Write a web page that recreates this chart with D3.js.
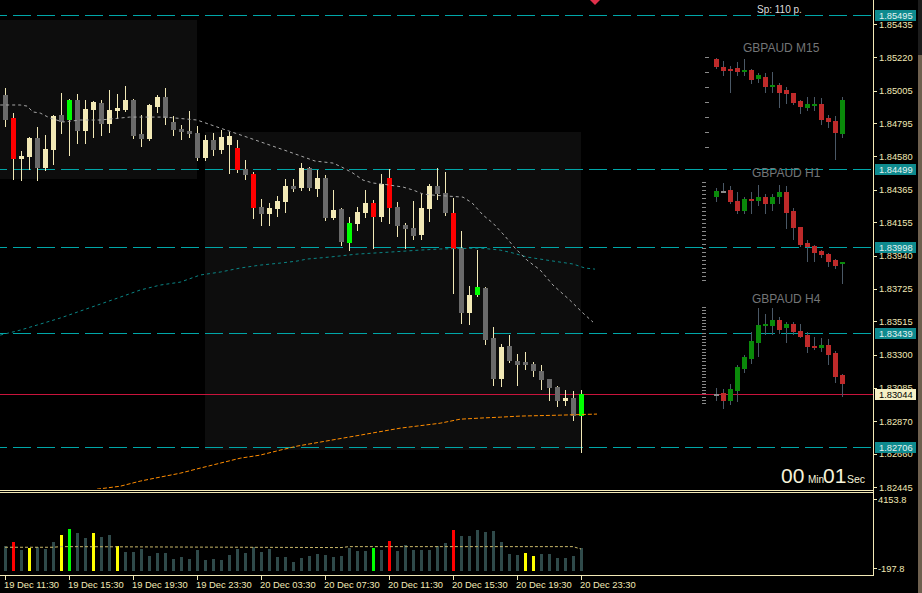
<!DOCTYPE html>
<html>
<head>
<meta charset="utf-8">
<script src="https://cdn.jsdelivr.net/npm/d3@7"></script>
<style>
  html, body { margin: 0; padding: 0; background: #000; overflow: hidden; }
  svg { display: block; }
  text { font-family: "Liberation Sans", Arial, sans-serif; }
</style>
</head>
<body>
<div id="chart"></div>
<script>
// GBPAUD M30 – bars 0..72 = 19 Dec 11:30 .. 20 Dec 23:30
const opens = [1.84976,1.84828,1.84563,1.84576,1.84698,1.84505,1.84621,1.84847,1.84815,1.84944,1.84744,1.84879,1.84925,1.84789,1.84873,1.84879,1.84944,1.84724,1.84692,1.84899,1.84963,1.84802,1.84757,1.84744,1.84731,1.84569,1.84686,1.84621,1.84653,1.84634,1.84498,1.84466,1.84253,1.84208,1.84240,1.84285,1.84388,1.84376,1.84505,1.84369,1.84440,1.84182,1.84240,1.84020,1.84143,1.84214,1.84279,1.84188,1.84440,1.84253,1.84137,1.84117,1.84072,1.84240,1.84388,1.84343,1.84214,1.83988,1.83568,1.83684,1.83730,1.83407,1.83142,1.83355,1.83258,1.83252,1.83239,1.83193,1.83142,1.83090,1.82999,1.83019,1.82903]
const highs = [1.85022,1.84860,1.84614,1.84705,1.84770,1.84718,1.84847,1.84989,1.84950,1.84983,1.84944,1.84937,1.84944,1.85009,1.84983,1.85034,1.84950,1.84847,1.84918,1.84976,1.85022,1.84841,1.84783,1.84873,1.84776,1.84718,1.84731,1.84750,1.84737,1.84686,1.84556,1.84479,1.84305,1.84279,1.84324,1.84434,1.84434,1.84537,1.84511,1.84492,1.84460,1.84363,1.84246,1.84188,1.84253,1.84363,1.84298,1.84466,1.84498,1.84285,1.84149,1.84292,1.84337,1.84401,1.84505,1.84479,1.84311,1.84098,1.83742,1.83975,1.83736,1.83478,1.83368,1.83426,1.83303,1.83316,1.83252,1.83232,1.83142,1.83096,1.83071,1.83064,1.83071]
const lows = [1.84776,1.84434,1.84427,1.84498,1.84427,1.84492,1.84531,1.84731,1.84589,1.84666,1.84666,1.84705,1.84718,1.84737,1.84828,1.84873,1.84698,1.84647,1.84686,1.84867,1.84789,1.84718,1.84692,1.84705,1.84556,1.84556,1.84589,1.84602,1.84472,1.84479,1.84434,1.84182,1.84137,1.84137,1.84195,1.84221,1.84356,1.84363,1.84363,1.84324,1.84169,1.84175,1.84007,1.83975,1.84104,1.84188,1.83988,1.84162,1.84149,1.84065,1.83988,1.84046,1.84046,1.84162,1.84305,1.84201,1.83697,1.83503,1.83497,1.83678,1.83368,1.83103,1.83096,1.83252,1.83103,1.83206,1.83161,1.83077,1.83006,1.82967,1.82974,1.82877,1.82670]
const closes = [1.84815,1.84563,1.84582,1.84698,1.84505,1.84627,1.84841,1.84802,1.84944,1.84744,1.84886,1.84931,1.84789,1.84879,1.84892,1.84944,1.84711,1.84692,1.84912,1.84963,1.84828,1.84750,1.84737,1.84724,1.84569,1.84686,1.84621,1.84705,1.84711,1.84492,1.84460,1.84246,1.84208,1.84246,1.84292,1.84388,1.84369,1.84505,1.84376,1.84440,1.84182,1.84233,1.84027,1.84149,1.84221,1.84279,1.84188,1.84401,1.84246,1.84130,1.84111,1.84065,1.84246,1.84388,1.84337,1.84214,1.83982,1.83568,1.83684,1.83736,1.83394,1.83142,1.83348,1.83258,1.83232,1.83232,1.83193,1.83135,1.83084,1.82999,1.83019,1.82903,1.83044]
const redBars = [1, 29, 31, 46, 48, 56]
const greenBars = [8, 43, 59, 72]

const volumes = [1190,1442,937,1064,1127,1000,1442,1883,2262,2010,1694,2010,1757,1883,1190,811,811,1000,559,748,748,370,496,370,937,307,370,307,622,1000,748,1127,811,1000,496,496,180,433,559,685,622,496,559,1064,874,874,1064,937,1505,874,1253,937,937,937,1190,1379,2199,1820,1820,2199,2073,2136,1442,685,622,748,559,685,685,433,433,559,1064]
const volRed = [1, 48, 56]
const volGreen = [8, 46]
const volYellow = [3, 7, 11, 14, 65, 66]
const volAvg = [[0, 1110], [6, 1110], [7, 1150], [42, 1090], [43, 1150], [71, 1150], [72, 1000]]

// moving averages: [bar, price]
const maGray = [[-0.6,1.84912],[1.9,1.84912],[2.75,1.84905],[3.5,1.84867],[4.4,1.84860],[5.6,1.84828],[7.25,1.84802],[9.4,1.84815],[11.9,1.84815],[15.6,1.84834],[20,1.84834],[24,1.84815],[26.9,1.84763],[30.6,1.84698],[35.6,1.84608],[38.75,1.84550],[41,1.84537],[42.1,1.84511],[43.5,1.84472],[44.75,1.84427],[46,1.84408],[47.25,1.84401],[49.75,1.84382],[51,1.84363],[52.25,1.84337],[53.5,1.84330],[55.25,1.84324],[57.25,1.84317],[58.4,1.84279],[59.75,1.84201],[61,1.84149],[62.5,1.84065],[63.75,1.83988],[65.25,1.83910],[66.9,1.83846],[68.5,1.83749],[70.6,1.83652],[72.25,1.83568],[73.5,1.83510]]
const maTeal = [[-0.6,1.83426],[1.9,1.83458],[4.4,1.83497],[6.9,1.83536],[9.4,1.83581],[11.9,1.83626],[14.4,1.83671],[16.9,1.83717],[19.4,1.83749],[21.9,1.83768],[24.4,1.83814],[26.9,1.83833],[29.4,1.83859],[31.9,1.83878],[34.4,1.83891],[36.5,1.83904],[37.75,1.83917],[40.6,1.83930],[44,1.83949],[48.1,1.83962],[51.9,1.83975],[54.4,1.83982],[59.4,1.83988],[61.9,1.83975],[63.5,1.83956],[65.25,1.83930],[67.75,1.83910],[71,1.83885],[72.5,1.83859],[73.75,1.83852]]
const maOrange = [[11.5,1.82431],[14.4,1.82450],[16.9,1.82483],[19.4,1.82509],[21.9,1.82534],[24.4,1.82567],[26.9,1.82599],[29.4,1.82631],[31.9,1.82651],[34.4,1.82683],[36.5,1.82709],[39.4,1.82735],[44.4,1.82780],[49.4,1.82825],[54.4,1.82857],[56.9,1.82883],[59.4,1.82890],[61.9,1.82896],[64.4,1.82903],[69.4,1.82909],[74,1.82916]]

// session boxes
const sessionFrom = [-0.7, 25]
const sessionTo = [24, 72]
const sessionHigh = [1.85461, 1.84737]
const sessionLow = [1.84434, 1.82683]

const priceTicks = [1.85435,1.85220,1.85005,1.84795,1.84580,1.84365,1.84155,1.83940,1.83725,1.83515,1.83300,1.83085,1.82870,1.82660,1.82445]
const levels = [1.85495, 1.84499, 1.83998, 1.83439, 1.82706]
const bid = 1.83044
const volTicks = [4153.8, -197.8]
const tickBars = [0, 8, 16, 24, 32, 40, 48, 56, 64, 72]
const tickLabels = ['19 Dec 11:30','19 Dec 15:30','19 Dec 19:30','19 Dec 23:30','20 Dec 03:30','20 Dec 07:30','20 Dec 11:30','20 Dec 15:30','20 Dec 19:30','20 Dec 23:30']

// mini charts: [open, high, low, close]
const m15 = [[1.83249,1.83254,1.83204,1.83209],[1.83209,1.83239,1.83169,1.83189],[1.83199,1.83214,1.83084,1.83194],[1.83204,1.83234,1.83169,1.83184],[1.83189,1.83249,1.83169,1.83194],[1.83194,1.83199,1.83129,1.83144],[1.83149,1.83179,1.83134,1.83169],[1.83159,1.83179,1.83084,1.83109],[1.83109,1.83184,1.83084,1.83119],[1.83119,1.83129,1.83009,1.83079],[1.83094,1.83109,1.83029,1.83074],[1.83079,1.83079,1.83024,1.83029],[1.83039,1.83044,1.82979,1.83009],[1.83004,1.83059,1.82994,1.83024],[1.83019,1.83059,1.82994,1.83024],[1.83024,1.83054,1.82924,1.82944],[1.82954,1.82969,1.82909,1.82934],[1.82939,1.82964,1.82749,1.82879],[1.82874,1.83059,1.82859,1.83044]]
const h1 = [[1.83694,1.83784,1.83654,1.83754],[1.83754,1.83834,1.83744,1.83754],[1.83764,1.83804,1.83634,1.83644],[1.83654,1.83744,1.83534,1.83554],[1.83554,1.83694,1.83534,1.83674],[1.83674,1.83744,1.83534,1.83654],[1.83654,1.83814,1.83614,1.83694],[1.83694,1.83724,1.83534,1.83624],[1.83624,1.83724,1.83564,1.83694],[1.83694,1.83814,1.83634,1.83744],[1.83744,1.83804,1.83384,1.83534],[1.83554,1.83584,1.83274,1.83384],[1.83394,1.83394,1.83204,1.83214],[1.83234,1.83264,1.83054,1.83194],[1.83204,1.83214,1.83054,1.83134],[1.83154,1.83164,1.83094,1.83114],[1.83124,1.83134,1.83004,1.83044],[1.83064,1.83074,1.82984,1.83004],[1.83034,1.83044,1.82834,1.83044]]
const h4 = [[1.82844,1.82964,1.82724,1.82844],[1.82864,1.82944,1.82564,1.82704],[1.82704,1.83044,1.82644,1.82944],[1.82904,1.83424,1.82704,1.83384],[1.83344,1.83624,1.83284,1.83584],[1.83544,1.84084,1.83464,1.83904],[1.83864,1.84564,1.83604,1.84224],[1.84204,1.84444,1.84044,1.84244],[1.84204,1.84564,1.84044,1.84324],[1.84324,1.84384,1.84064,1.84124],[1.84164,1.84284,1.83884,1.84244],[1.84244,1.84284,1.84044,1.84084],[1.84104,1.84244,1.83984,1.83984],[1.84024,1.84084,1.83684,1.83784],[1.83804,1.83984,1.83744,1.83764],[1.83764,1.83964,1.83704,1.83824],[1.83824,1.83944,1.83444,1.83624],[1.83664,1.83704,1.83084,1.83184],[1.83224,1.83244,1.82804,1.83044]]

const W = 922, H = 593
const AX = 873
const cream = '#f2e9b6'
const teal = '#00a6a8'

const svg = d3.select('#chart').append('svg')
  .attr('width', W).attr('height', H)
  .style('background', '#000')

svg.append('defs').append('clipPath').attr('id', 'clipMain')
  .append('rect').attr('x', 0).attr('y', 0).attr('width', AX).attr('height', 489)

const x = d3.scaleLinear().domain([0, 72]).range([5, 581])
const y = d3.scaleLinear().domain([1.82445, 1.85435]).range([487, 24])
const yVol = d3.scaleLinear().domain([-197.8, 4153.8]).range([568, 499])
const py = v => Math.round(y(v))

const main = svg.append('g').attr('clip-path', 'url(#clipMain)').attr('shape-rendering', 'crispEdges')

// session boxes
main.append('g').selectAll('rect')
  .data(sessionFrom.map((f, i) => ({ f, t: sessionTo[i], hi: sessionHigh[i], lo: sessionLow[i] })))
  .join('rect')
  .attr('x', d => Math.round(x(d.f)))
  .attr('width', d => Math.round(x(d.t)) - Math.round(x(d.f)))
  .attr('y', d => py(d.hi))
  .attr('height', d => py(d.lo) - py(d.hi))
  .attr('fill', '#0d0d0d')

// horizontal levels
main.append('g').selectAll('line').data(levels).join('line')
  .attr('x1', 0).attr('x2', AX)
  .attr('y1', d => py(d) + 0.5).attr('y2', d => py(d) + 0.5)
  .attr('stroke', teal)
  .attr('stroke-width', 1.2)
  .attr('stroke-dasharray', '18,6')
  .attr('stroke-dashoffset', 11)

main.append('line')
  .attr('x1', 0).attr('x2', AX)
  .attr('y1', py(bid) + 0.5).attr('y2', py(bid) + 0.5)
  .attr('stroke', '#c8143c')

// candles
const candles = opens.map((o, i) => ({ i, o, h: highs[i], l: lows[i], c: closes[i] }))
const candleFill = d => redBars.includes(d.i) ? '#ff0000'
  : greenBars.includes(d.i) ? '#00ff00'
  : d.c >= d.o ? cream : '#6a6a6a'

main.append('g').selectAll('line').data(candles).join('line')
  .attr('x1', d => x(d.i) + 0.5).attr('x2', d => x(d.i) + 0.5)
  .attr('y1', d => py(d.h)).attr('y2', d => py(d.l) + 1)
  .attr('stroke', cream)

main.append('g').selectAll('rect').data(candles).join('rect')
  .attr('x', d => x(d.i) - 2).attr('width', 5)
  .attr('y', d => py(Math.max(d.o, d.c)))
  .attr('height', d => Math.max(1, py(Math.min(d.o, d.c)) - py(Math.max(d.o, d.c))))
  .attr('fill', candleFill)

// moving averages
const maLine = d3.line().x(d => x(d[0])).y(d => y(d[1]))
const maG = svg.append('g').attr('clip-path', 'url(#clipMain)').attr('fill', 'none')
maG.append('path').attr('d', maLine(maTeal)).attr('stroke', '#0b8585').attr('stroke-dasharray', '3,3')
maG.append('path').attr('d', maLine(maOrange)).attr('stroke', '#ff8c00').attr('stroke-dasharray', '4,2')
maG.append('path').attr('d', maLine(maGray)).attr('stroke', '#a8a8a8').attr('stroke-dasharray', '3,3')

// pane borders
const frame = svg.append('g').attr('shape-rendering', 'crispEdges').attr('stroke', cream)
frame.append('line').attr('x1', AX + 0.5).attr('x2', AX + 0.5).attr('y1', 0).attr('y2', 576)
frame.append('line').attr('x1', 0).attr('x2', AX).attr('y1', 490.5).attr('y2', 490.5)
frame.append('line').attr('x1', 0).attr('x2', AX).attr('y1', 492.5).attr('y2', 492.5)
frame.append('line').attr('x1', 0).attr('x2', AX).attr('y1', 575.5).attr('y2', 575.5)

// price axis
const axisG = svg.append('g')
axisG.selectAll('line').data(priceTicks).join('line')
  .attr('x1', AX).attr('x2', AX + 4)
  .attr('y1', d => py(d) + 0.5).attr('y2', d => py(d) + 0.5)
  .attr('stroke', cream).attr('shape-rendering', 'crispEdges')
axisG.selectAll('text').data(priceTicks).join('text')
  .attr('x', 879).attr('y', d => y(d) + 3.5)
  .attr('font-size', 9.3).attr('fill', cream)
  .text(d => d.toFixed(5))

// price tags drawn over the axis labels, as the terminal does
const tags = svg.append('g')
const tagData = levels.map(v => ({ v, bg: '#0e8a8e', fg: '#e4f2f2' })).concat([{ v: bid, bg: '#f5f0c6', fg: '#000' }])
tags.selectAll('rect').data(tagData).join('rect')
  .attr('x', 875).attr('width', 41)
  .attr('y', d => py(d.v) - 5).attr('height', 11)
  .attr('fill', d => d.bg)
tags.selectAll('text').data(tagData).join('text')
  .attr('x', 879).attr('y', d => py(d.v) + 4)
  .attr('font-size', 9.3).attr('fill', d => d.fg)
  .text(d => d.v.toFixed(5))

// volumes
const volColor = i => volRed.includes(i) ? '#ff0000'
  : volGreen.includes(i) ? '#00ff00'
  : volYellow.includes(i) ? '#ffff00' : '#2f4a4a'
svg.append('g').attr('shape-rendering', 'crispEdges')
  .selectAll('rect').data(volumes).join('rect')
  .attr('x', (d, i) => x(i) - 1).attr('width', 3)
  .attr('y', d => Math.round(yVol(d)))
  .attr('height', d => 571 - Math.round(yVol(d)))
  .attr('fill', (d, i) => volColor(i))

svg.append('path')
  .attr('d', d3.line().x(d => x(d[0])).y(d => yVol(d[1]))(volAvg))
  .attr('fill', 'none').attr('stroke', '#c9b86a').attr('stroke-dasharray', '3,2')

svg.append('g').selectAll('line').data(volTicks).join('line')
  .attr('x1', AX).attr('x2', AX + 4)
  .attr('y1', d => Math.round(yVol(d)) + 0.5).attr('y2', d => Math.round(yVol(d)) + 0.5)
  .attr('stroke', cream).attr('shape-rendering', 'crispEdges')
svg.append('g').selectAll('text').data(volTicks).join('text')
  .attr('x', 878).attr('y', d => yVol(d) + 3.5)
  .attr('font-size', 9.3).attr('fill', cream)
  .text(d => d.toFixed(1))

// time axis
svg.append('g').selectAll('line').data(tickBars).join('line')
  .attr('x1', d => x(d) + 0.5).attr('x2', d => x(d) + 0.5)
  .attr('y1', 576).attr('y2', 580)
  .attr('stroke', cream).attr('shape-rendering', 'crispEdges')
svg.append('g').selectAll('text').data(tickBars).join('text')
  .attr('x', d => x(d) - 1).attr('y', 588)
  .attr('font-size', 9.4).attr('fill', cream)
  .text((d, i) => tickLabels[i])

// mini charts
const miniX = d3.scaleLinear().domain([0, 18]).range([716, 842])
const drawMini = (data, domain, range, title, titleX, titleY) => {
  const my = d3.scaleLinear().domain(domain).range(range)
  const g = svg.append('g').attr('shape-rendering', 'crispEdges')
  g.append('text')
    .attr('x', titleX).attr('y', titleY)
    .attr('font-size', 12).attr('fill', '#737577')
    .attr('shape-rendering', 'auto')
    .text(title)
  g.selectAll('line').data(data).join('line')
    .attr('x1', (d, i) => miniX(i) + 0.5).attr('x2', (d, i) => miniX(i) + 0.5)
    .attr('y1', d => Math.round(my(d[1]))).attr('y2', d => Math.round(my(d[2])) + 1)
    .attr('stroke', '#4a5866')
  g.selectAll('rect').data(data).join('rect')
    .attr('x', (d, i) => miniX(i) - 2).attr('width', 5)
    .attr('y', d => Math.round(my(Math.max(d[0], d[3]))))
    .attr('height', d => Math.max(2, Math.round(my(Math.min(d[0], d[3]))) - Math.round(my(Math.max(d[0], d[3])))))
    .attr('fill', d => d[3] > d[0] ? '#0a8a0a' : d[3] < d[0] ? '#be2a2a' : '#8a8a8a')
  return g
}
const gM15 = drawMini(m15, [1.82749, 1.83254], [159, 58], 'GBPAUD M15', 743, 52)
const gH1 = drawMini(h1, [1.82834, 1.83834], [283, 183], 'GBPAUD H1', 752, 177)
const gH4 = drawMini(h4, [1.82564, 1.84564], [408, 308], 'GBPAUD H4', 752, 303)

// scale ladders beside the mini charts
gM15.append('g').selectAll('line').data(d3.range(57, 150, 15)).join('line')
  .attr('x1', 705).attr('x2', 709).attr('y1', d => d + 0.5).attr('y2', d => d + 0.5).attr('stroke', '#8a8a8a')
gH1.append('g').selectAll('line').data(d3.range(182, 281, 4.1)).join('line')
  .attr('x1', 702).attr('x2', 706).attr('y1', d => Math.round(d) + 0.5).attr('y2', d => Math.round(d) + 0.5).attr('stroke', '#8a8a8a')
gH4.append('g').selectAll('line').data(d3.range(307, 406, 3.2)).join('line')
  .attr('x1', 702).attr('x2', 706).attr('y1', d => Math.round(d) + 0.5).attr('y2', d => Math.round(d) + 0.5).attr('stroke', '#8a8a8a')

// spread + timer
svg.append('text').attr('x', 757).attr('y', 13).attr('font-size', 10).attr('fill', '#dedede').text('Sp: 110 p.')
svg.append('path').attr('d', 'M590,0 L600,0 L595,5 Z').attr('fill', '#e0304a')

const timer = svg.append('g').attr('fill', '#f7f3da')
timer.append('text').attr('x', 781).attr('y', 483).attr('font-size', 21).text('00')
timer.append('text').attr('x', 808).attr('y', 483).attr('font-size', 10).text('Min')
timer.append('text').attr('x', 823).attr('y', 483).attr('font-size', 21).text('01')
timer.append('text').attr('x', 847).attr('y', 483).attr('font-size', 10.5).text('Sec')

// window edge on the right
svg.append('rect').attr('x', 918).attr('y', 0).attr('width', 4).attr('height', 55).attr('fill', '#1c1c1c')
svg.append('rect').attr('x', 918).attr('y', 55).attr('width', 4).attr('height', 538).attr('fill', '#6e604f')
</script>
</body>
</html>
